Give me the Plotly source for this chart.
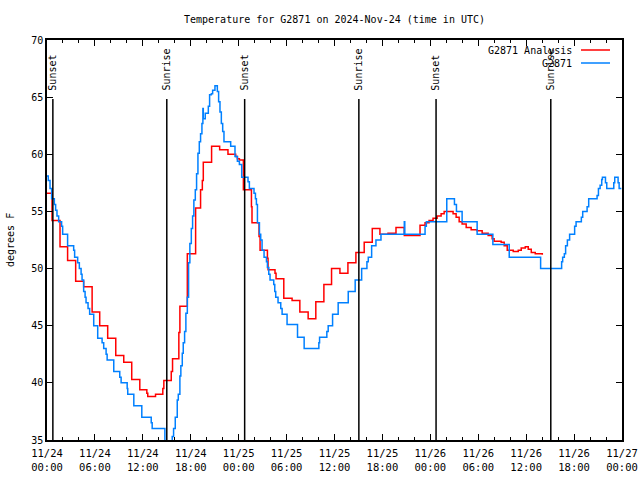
import pandas as pd
import plotly.graph_objects as go

# ---- data (hours since 2024-11-24 00:00 UTC, temperature in F) ----
obs_hours = [0.00, 0.16, 0.38, 0.58, 0.92, 1.08, 1.25, 1.46, 1.83, 1.96, 2.58, 3.34, 3.46, 3.84, 4.05,
             4.27, 4.39, 4.59, 4.77, 4.89, 5.14, 5.34, 5.85, 6.35, 6.90, 7.10, 7.40, 7.53, 8.36, 9.11,
             9.28, 10.04, 10.11, 10.87, 11.87, 13.05, 13.17, 14.76, 15.68, 15.85, 16.06, 16.31, 16.44,
             16.64, 16.76, 16.94, 17.06, 17.23, 17.39, 17.57, 17.73, 17.89, 18.07, 18.23, 18.39, 18.57,
             18.73, 18.90, 19.07, 19.23, 19.40, 19.52, 19.57, 19.82, 20.20, 20.36, 20.58, 20.74, 21.03,
             21.33, 21.49, 21.66, 21.83, 22.00, 22.16, 23.00, 23.54, 23.84, 24.09, 24.38, 25.17, 25.34,
             25.92, 26.10, 26.22, 26.35, 26.60, 26.76, 26.93, 27.18, 27.48, 27.60, 27.77, 27.93, 28.39,
             28.52, 28.64, 28.93, 29.27, 29.44, 30.06, 31.37, 32.20, 34.04, 34.13, 35.04, 35.21, 35.76,
             36.46, 37.72, 38.59, 39.40, 40.06, 40.23, 40.65, 41.19, 41.82, 44.74, 44.80, 47.34, 47.50,
             50.06, 51.02, 51.27, 51.98, 53.86, 55.83, 57.88, 61.81, 64.44, 64.57, 64.78, 64.94, 65.16,
             65.44, 66.07, 66.25, 66.91, 67.08, 67.63, 67.83, 68.88, 69.05, 69.26, 69.46, 69.55, 69.93,
             70.09, 70.97, 71.09, 71.51, 71.64, 71.92]
obs_temp = [58.1, 57.7, 57.0, 56.1, 55.6, 55.1, 54.6, 54.1, 53.7, 53.0, 52.0, 51.6, 51.0, 50.5, 50.0,
            49.5, 49.0, 48.0, 47.5, 47.0, 46.5, 46.0, 45.0, 43.9, 43.5, 43.0, 42.5, 42.0, 41.0, 40.5,
            40.0, 39.5, 39.0, 38.0, 37.0, 36.5, 36.0, 34.0, 35.3, 36.0, 37.0, 38.5, 39.0,
            40.6, 41.5, 42.6, 43.5, 44.5, 46.1, 47.5, 50.5, 52.2, 53.5, 54.6, 56.0, 56.9,
            58.3, 60.1, 61.1, 61.8, 62.7, 64.0, 63.1, 63.6, 64.2, 65.2, 65.3, 65.6, 66.0,
            65.5, 64.6, 63.7, 62.7, 62.0, 61.1, 60.7, 59.8, 59.4, 59.1, 58.0, 57.6, 57.0,
            56.6, 56.1, 55.6, 54.0, 53.0, 52.5, 51.6, 51.0, 50.6, 50.1, 49.5, 49.0, 48.6,
            48.0, 47.5, 47.0, 46.5, 46.0, 45.1, 44.0, 43.0, 43.5, 44.0, 44.5, 45.0, 46.0,
            47.0, 48.0, 49.0, 50.0, 50.6, 51.0, 52.0, 52.5, 53.0, 54.1, 53.0, 53.7, 54.1,
            56.1, 55.6, 55.0, 54.1, 53.0, 52.1, 51.0, 50.0, 50.6, 51.0, 51.3, 52.0, 52.5,
            53.0, 53.7, 54.1, 54.5, 55.0, 55.4, 56.1, 56.4, 57.0, 57.3, 57.8, 58.0, 57.5,
            57.0, 57.5, 58.0, 57.5, 57.0, 57.0]

ana_hours = [0.00, 0.63, 1.63, 2.58, 3.59, 4.59, 5.65, 6.60, 7.60, 8.61, 9.61, 10.61, 11.62, 12.50,
             12.62, 13.59, 14.50, 14.63, 15.56, 15.72, 16.51, 16.64, 17.57, 18.61, 19.23, 19.45, 19.57,
             20.61, 21.62, 22.66, 23.63, 23.84, 24.09, 24.59, 25.60, 25.67, 26.55, 26.68, 27.60, 27.68,
             28.55, 28.68, 29.65, 30.69, 31.66, 32.70, 33.66, 34.67, 35.63, 36.68, 37.68, 38.68, 39.72,
             40.73, 41.69, 42.70, 43.70, 44.74, 46.71, 47.34, 47.84, 48.34, 48.85, 49.35, 49.73, 50.23,
             50.85, 51.23, 51.61, 51.98, 52.49, 53.11, 53.86, 54.49, 55.24, 55.74, 55.99, 56.87, 57.25,
             57.63, 58.38, 59.01, 59.38, 59.89, 60.26, 60.64, 61.14, 62.02]
ana_temp = [56.6, 54.2, 51.9, 50.7, 48.9, 48.4, 46.2, 45.0, 43.9, 42.4, 41.8, 40.3, 39.4, 39.1,
            38.8, 39.0, 39.5, 40.2, 41.0, 42.1, 44.4, 46.7, 51.3, 55.3, 56.9, 57.7, 59.3,
            60.7, 60.4, 60.0, 59.8, 59.6, 59.5, 56.9, 55.4, 54.0, 52.8, 51.6, 50.9, 49.9,
            49.6, 49.1, 47.4, 47.2, 46.2, 45.6, 47.1, 48.6, 50.0, 49.6, 50.5, 51.4, 52.3,
            53.5, 53.0, 53.1, 53.6, 52.9, 53.8, 54.0, 54.2, 54.4, 54.6, 54.8, 55.0, 55.0,
            54.8, 54.5, 54.1, 53.9, 53.6, 53.4, 53.3, 53.1, 52.9, 52.6, 52.4, 52.3, 52.0,
            51.6, 51.5, 51.6, 51.8, 51.9, 51.7, 51.4, 51.3, 51.2]

sun_events = ["Sunset", "Sunrise", "Sunset", "Sunrise", "Sunset", "Sunrise"]
sun_times = ["2024-11-24 00:44", "2024-11-24 15:00", "2024-11-25 00:45",
             "2024-11-25 15:03", "2024-11-26 00:43", "2024-11-26 15:05"]

series_names = ["G2871 Analysis", "G2871"]
series_colors = ["#ff0000", "#0080ff"]

base = pd.Timestamp("2024-11-24 00:00")
obs_time = base + pd.to_timedelta(obs_hours, unit="h")
ana_time = base + pd.to_timedelta(ana_hours, unit="h")

FONT = "DejaVu Sans Mono"

fig = go.Figure()
fig.add_trace(go.Scatter(x=ana_time, y=ana_temp, mode="lines", line_shape="hv",
                         line=dict(color=series_colors[0], width=1.5), name=series_names[0],
                         showlegend=False))
fig.add_trace(go.Scatter(x=obs_time, y=obs_temp, mode="lines", line_shape="hv",
                         line=dict(color=series_colors[1], width=1.5), name=series_names[1],
                         showlegend=False))

shapes = []
annotations = []
for ev, t in zip(sun_events, sun_times):
    shapes.append(dict(type="line", xref="x", yref="paper", x0=t, x1=t, y0=0, y1=0.8525,
                       line=dict(color="black", width=1.5)))
    annotations.append(dict(x=t, xref="x", y=0.868, yref="paper", text=ev, textangle=-90,
                            showarrow=False, xanchor="center", yanchor="bottom",
                            font=dict(family=FONT, size=10, color="black")))

# legend (gnuplot-style: text then line sample)
for i, (nm, col) in enumerate(zip(series_names, series_colors)):
    ypix = 50 + i * 13
    yp = (440 - ypix) / 400
    annotations.append(dict(x=(574 - 47) / 575, xref="paper", y=yp, yref="paper", text=nm,
                            showarrow=False, xanchor="right", yanchor="middle",
                            font=dict(family=FONT, size=10, color="black")))
    shapes.append(dict(type="line", xref="paper", yref="paper",
                       x0=(581 - 47) / 575, x1=(610 - 47) / 575, y0=yp, y1=yp,
                       line=dict(color=col, width=1.5)))

annotations.append(dict(x=(10 - 47) / 575, xref="paper", y=0.5, yref="paper", text="degrees F",
                        textangle=-90, showarrow=False, xanchor="center", yanchor="middle",
                        font=dict(family=FONT, size=10, color="black")))

fig.update_layout(
    width=640, height=480,
    margin=dict(l=47, r=18, t=40, b=40),
    paper_bgcolor="white", plot_bgcolor="white",
    title=dict(text="Temperature for G2871 on 2024-Nov-24 (time in UTC)", x=0.5, xref="paper",
               xanchor="center", y=1 - 19 / 480, yanchor="middle",
               font=dict(family=FONT, size=10, color="black")),
    font=dict(family=FONT, size=10, color="black"),
    shapes=shapes, annotations=annotations,
    showlegend=False,
)
fig.update_xaxes(type="date", range=["2024-11-24 00:00", "2024-11-27 00:00"],
                 dtick=6 * 3600 * 1000, tick0="2024-11-24 00:00", tickformat="%m/%d<br>%H:%M",
                 ticks="inside", ticklen=6, tickcolor="black", tickwidth=1,
                 minor=dict(dtick=2 * 3600 * 1000, ticks="inside", ticklen=3, tickcolor="black",
                            showgrid=False),
                 showline=True, linecolor="black", linewidth=1.5, mirror="ticks",
                 showgrid=False, zeroline=False, automargin=False, ticklabelstandoff=3,
                 tickfont=dict(family=FONT, size=10.5, color="black"))
fig.update_yaxes(range=[35, 70], dtick=5, ticks="inside", ticklen=6, tickcolor="black",
                 showline=True, linecolor="black", linewidth=1.5, mirror="ticks",
                 showgrid=False, zeroline=False, automargin=False,
                 tickfont=dict(family=FONT, size=10, color="black"))

fig.write_html("out.html", config={"displayModeBar": False},
               post_script="document.body.style.margin='0';document.body.style.padding='0';")
